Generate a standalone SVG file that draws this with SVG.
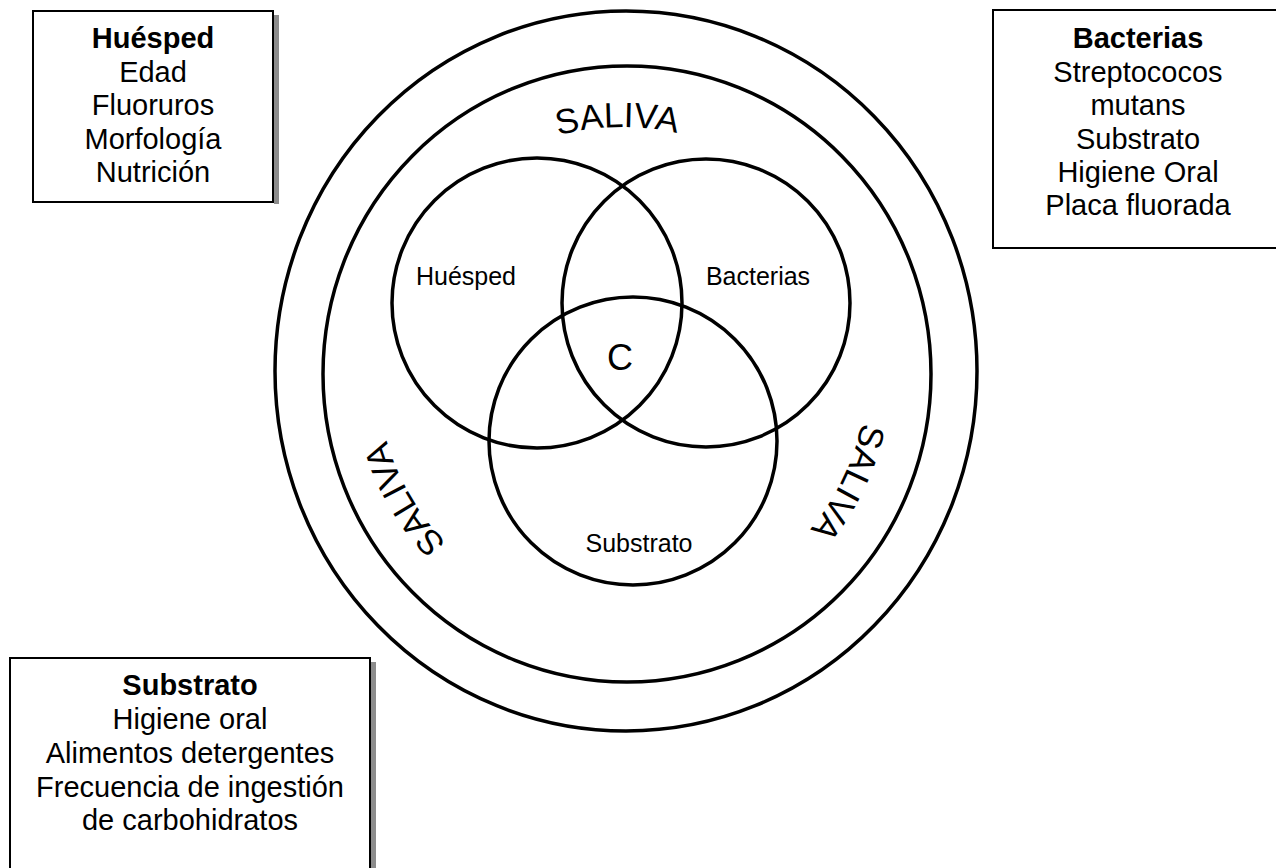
<svg xmlns="http://www.w3.org/2000/svg" width="1276" height="868" viewBox="0 0 1276 868">
  <style>
    .ring { fill: none; stroke: #000; stroke-width: 3.5; }
    .box { fill: #fff; stroke: #000; stroke-width: 2; }
    .shadow { fill: #8c8c8c; }
    .boxtext { font-family: "Liberation Sans", Arial, sans-serif; font-size: 29px; fill: #000; text-anchor: middle; }
    .title { font-weight: bold; }
    .label { font-family: "Liberation Sans", Arial, sans-serif; font-size: 25px; fill: #000; text-anchor: middle; }
    .saliva { font-family: "Liberation Sans", Arial, sans-serif; font-size: 35px; fill: #000; text-anchor: middle; }
  </style>
  <defs>
    <!-- clockwise circle used to bend the SALIVA labels; starts at its leftmost point -->
    <path id="salivaArc" d="M 377 372 A 245 245 0 1 1 867 372 A 245 245 0 1 1 377 372"/>
  </defs>
  <rect width="1276" height="868" fill="#fff"/>

  <!-- saliva rings -->
  <g id="saliva">
    <ellipse class="ring" cx="626" cy="371" rx="351" ry="360"/>
    <ellipse class="ring" cx="627" cy="374" rx="304" ry="308"/>
    <text class="saliva"><textPath href="#salivaArc" startOffset="24.7%">SALIVA</textPath></text>
    <text class="saliva"><textPath href="#salivaArc" startOffset="57.2%">SALIVA</textPath></text>
    <text class="saliva"><textPath href="#salivaArc" startOffset="91.6%">SALIVA</textPath></text>
  </g>

  <!-- three overlapping factors -->
  <g id="venn-huesped">
    <circle class="ring" cx="537" cy="303" r="145"/>
    <text class="label" x="466" y="285">Huésped</text>
  </g>
  <g id="venn-bacterias">
    <circle class="ring" cx="706" cy="303" r="144"/>
    <text class="label" x="758" y="285">Bacterias</text>
  </g>
  <g id="venn-substrato">
    <circle class="ring" cx="633" cy="441" r="144"/>
    <text class="label" x="639" y="552">Substrato</text>
  </g>
  <g id="center-c">
    <text class="label" x="620" y="370" style="font-size:36px">C</text>
  </g>

  <!-- factor boxes -->
  <g id="box-huesped">
    <rect class="shadow" x="274" y="15" width="5" height="189"/>
    <rect class="box" x="33" y="11" width="240" height="191"/>
    <text class="boxtext title" x="153" y="48">Huésped</text>
    <text class="boxtext" x="153" y="82">Edad</text>
    <text class="boxtext" x="153" y="115">Fluoruros</text>
    <text class="boxtext" x="153" y="149">Morfología</text>
    <text class="boxtext" x="153" y="182">Nutrición</text>
  </g>
  <g id="box-bacterias">
    <rect class="box" x="993" y="10" width="300" height="238"/>
    <text class="boxtext title" x="1138" y="48">Bacterias</text>
    <text class="boxtext" x="1138" y="82">Streptococos</text>
    <text class="boxtext" x="1138" y="115">mutans</text>
    <text class="boxtext" x="1138" y="149">Substrato</text>
    <text class="boxtext" x="1138" y="182">Higiene Oral</text>
    <text class="boxtext" x="1138" y="215">Placa fluorada</text>
  </g>
  <g id="box-substrato">
    <rect class="shadow" x="371" y="662" width="5" height="220"/>
    <rect class="box" x="10" y="658" width="360" height="230"/>
    <text class="boxtext title" x="190" y="695">Substrato</text>
    <text class="boxtext" x="190" y="729">Higiene oral</text>
    <text class="boxtext" x="190" y="763">Alimentos detergentes</text>
    <text class="boxtext" x="190" y="797">Frecuencia de ingestión</text>
    <text class="boxtext" x="190" y="830">de carbohidratos</text>
  </g>
</svg>
